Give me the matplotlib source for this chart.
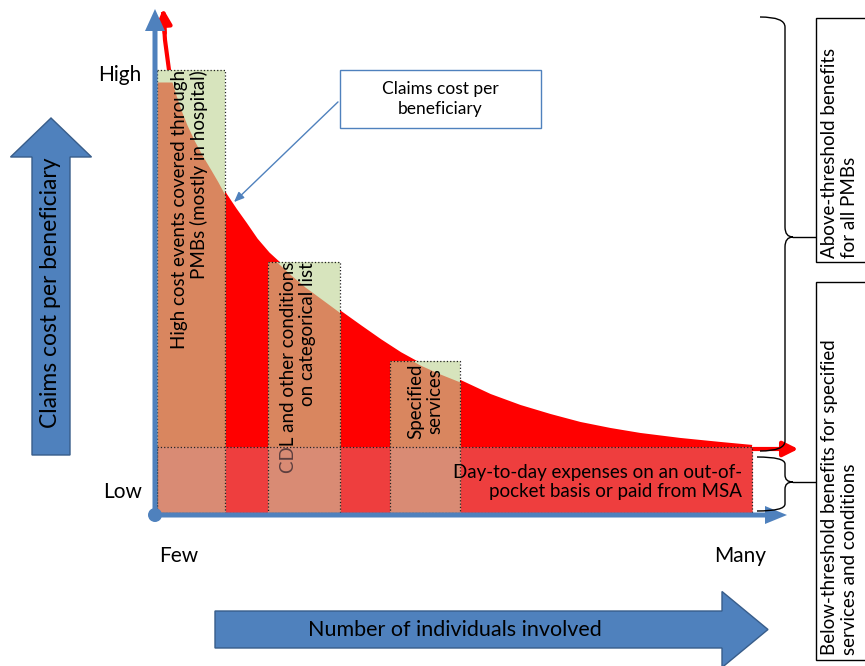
import numpy as np
import matplotlib
matplotlib.use('Agg')
import matplotlib.pyplot as plt
from matplotlib.patches import Rectangle, FancyArrow, Circle, PathPatch
from matplotlib.path import Path

plt.rcParams['font.family'] = ['Lato', 'DejaVu Sans']

# diagram works in pixel-like units, y grows downwards
curve_x = [163, 164, 165, 167, 169, 172, 176, 181, 187, 194, 202, 211, 218,
           225, 235, 245, 256, 268, 280, 292, 305, 320, 339, 360, 380, 400,
           420, 440, 460, 490, 520, 550, 580, 610, 640, 680, 720, 752]
curve_y = [12, 25, 40, 55, 70, 82, 95, 110, 125, 140, 155, 170, 182,
           195, 210, 224, 240, 254, 265, 276, 287, 298, 312, 327, 341, 354,
           365, 374, 382, 396, 407, 416, 424, 430, 435, 440, 444, 447]

box_labels = ['High cost events covered through\nPMBs (mostly in hospital)',
              'CDL and other conditions\non categorical list',
              'Specified\nservices']
box_left = [157, 268, 390]
box_right = [225, 340, 460]
box_top = [70, 262, 361]

band_label = 'Day-to-day expenses on an out-of-\npocket basis or paid from MSA'
right_labels = ['Above-threshold benefits\nfor all PMBs',
                'Below-threshold benefits for specified\nservices and conditions']

base_y = 513
fill_top = 82
RED = '#ff0000'
GREEN = '#d7e4bd'
ORANGE = '#d9865f'
BLUE = '#4f81bd'
DKBLUE = '#385d8a'

fig = plt.figure(figsize=(8.65, 6.66), dpi=100)
ax = fig.add_axes([0, 0, 1, 1])
ax.set_xlim(0, 865)
ax.set_ylim(666, 0)
ax.axis('off')

# red area under the cost curve
fx = np.r_[box_left[0], curve_x]
fy = np.maximum(np.r_[fill_top, curve_y], fill_top)
ax.fill_between(fx, fy, base_y, color=RED, lw=0, zorder=1)
ax.plot(curve_x, curve_y, color=RED, lw=3, zorder=1, solid_capstyle='butt')
ax.annotate('', xy=(163, 6), xytext=(165, 36),
            arrowprops=dict(arrowstyle='-|>,head_length=0.9,head_width=0.45',
                            color=RED, lw=3), zorder=1)
ax.annotate('', xy=(801, 449), xytext=(750, 449),
            arrowprops=dict(arrowstyle='-|>,head_length=0.9,head_width=0.45',
                            color=RED, lw=3), zorder=1)

# green boxes, with the part under the curve shown orange
for lab, l, r, t in zip(box_labels, box_left, box_right, box_top):
    rect = Rectangle((l, t), r - l, base_y - t, fc=GREEN, ec='none', zorder=2)
    ax.add_patch(rect)
    fb = ax.fill_between(fx, fy, base_y, color=ORANGE, lw=0, zorder=3)
    fb.set_clip_path(rect)
    ax.add_patch(Rectangle((l, t), r - l, base_y - t, fc='none', ec='#222222',
                           lw=0.9, ls=':', zorder=7))

ax.text(171, 70, box_labels[0], rotation=90, rotation_mode='anchor',
        ha='right', va='top', multialignment='right', fontsize=13.5,
        linespacing=1.15, zorder=4)
ax.text(280, 262, box_labels[1], rotation=90, rotation_mode='anchor',
        ha='right', va='top', multialignment='right', fontsize=13.5,
        linespacing=1.15, zorder=4)
ax.text(425, 401, box_labels[2], rotation=90, ha='center', va='center',
        multialignment='center', fontsize=13.5, linespacing=1.15, zorder=4)

# translucent band for day-to-day expenses
ax.add_patch(Rectangle((157, 447), 752 - 157, base_y - 447, fc='#d99292',
                       alpha=0.43, ec='none', zorder=6))
ax.add_patch(Rectangle((157, 447), 752 - 157, base_y - 447, fc='none',
                       ec='#222222', lw=0.9, ls=':', zorder=7))
ax.text(742, 482, band_label, ha='right', va='center', multialignment='right',
        fontsize=13.5, linespacing=1.15, zorder=8)

# axes
ax.add_patch(FancyArrow(155, 515, 0, -506, width=5, head_width=20,
                        head_length=22, length_includes_head=True,
                        fc=BLUE, ec='none', zorder=9))
ax.add_patch(FancyArrow(155, 515, 632, 0, width=5, head_width=18,
                        head_length=22, length_includes_head=True,
                        fc=BLUE, ec='none', zorder=9))
ax.add_patch(Circle((155, 515), 7, fc=BLUE, ec='none', zorder=9))

ax.text(120, 75, 'High', ha='center', va='center', fontsize=15)
ax.text(123, 492, 'Low', ha='center', va='center', fontsize=15)
ax.text(179, 556, 'Few', ha='center', va='center', fontsize=15)
ax.text(740, 556, 'Many', ha='center', va='center', fontsize=15)

# big direction arrows
ax.add_patch(FancyArrow(51, 455, 0, -337, width=38, head_width=81,
                        head_length=39, length_includes_head=True,
                        fc=BLUE, ec=DKBLUE, lw=1, zorder=2))
ax.text(51, 293, 'Claims cost per beneficiary', rotation=90, ha='center',
        va='center', fontsize=16.5, zorder=3)
ax.add_patch(FancyArrow(215, 629.5, 553, 0, width=37, head_width=76,
                        head_length=46, length_includes_head=True,
                        fc=BLUE, ec=DKBLUE, lw=1, zorder=2))
ax.text(455, 630, 'Number of individuals involved', ha='center',
        va='center', fontsize=15.5, zorder=3)

# callout
ax.add_patch(Rectangle((340, 70), 201, 58, fc='white', ec=BLUE, lw=1,
                       zorder=10))
ax.text(440, 99, 'Claims cost per\nbeneficiary', ha='center', va='center',
        fontsize=12.5, linespacing=1.3, zorder=11)
ax.annotate('', xy=(232, 204), xytext=(340, 100),
            arrowprops=dict(arrowstyle='-|>,head_length=0.6,head_width=0.25',
                            color=BLUE, lw=1), zorder=10)


def brace(xl, xs, xt, y0, y1, ym, r=8):
    verts = [(xl, y0), (xs, y0), (xs, y0 + r),
             (xs, ym - r), (xs, ym), (xt, ym),
             (xs, ym), (xs, ym + r),
             (xs, y1 - r), (xs, y1), (xl, y1)]
    codes = [Path.MOVETO, Path.CURVE3, Path.CURVE3,
             Path.LINETO, Path.CURVE3, Path.CURVE3,
             Path.CURVE3, Path.CURVE3,
             Path.LINETO, Path.CURVE3, Path.CURVE3]
    ax.add_patch(PathPatch(Path(verts, codes), fc='none', ec='black', lw=1,
                           zorder=12))


brace(760, 785, 793, 17, 451, 237, r=10)
brace(757, 785, 793, 457, 511, 482, r=7)
ax.plot([793, 816], [237, 237], color='black', lw=1, zorder=12)
ax.plot([793, 816], [482, 482], color='black', lw=1, zorder=12)

# side boxes
ax.add_patch(Rectangle((816, 18), 60, 244, fc='white', ec='black', lw=1,
                       zorder=12, clip_on=False))
ax.add_patch(Rectangle((816, 282), 60, 378, fc='white', ec='black', lw=1,
                       zorder=12, clip_on=False))
ax.text(821, 258, right_labels[0], rotation=90, rotation_mode='anchor',
        ha='left', va='top', multialignment='left', fontsize=13.5,
        linespacing=1.2, zorder=13)
ax.text(821, 655, right_labels[1], rotation=90, rotation_mode='anchor',
        ha='left', va='top', multialignment='left', fontsize=13.5,
        linespacing=1.2, zorder=13)

fig.savefig('out.png', dpi=100)
